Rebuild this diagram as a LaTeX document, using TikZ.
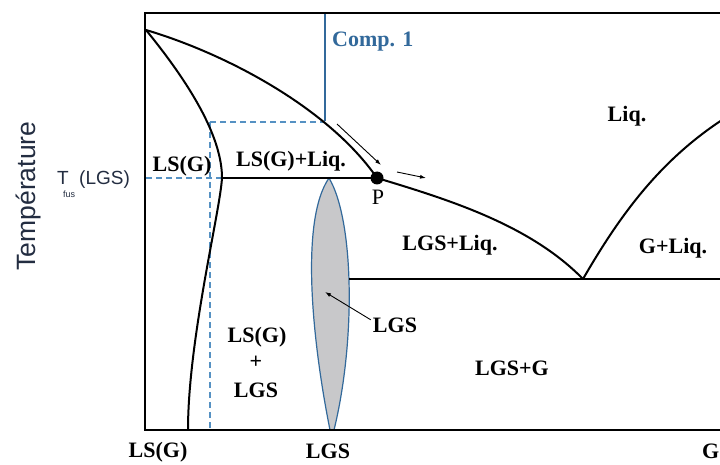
\documentclass[tikz,border=0pt]{standalone}
\usepackage{fontspec}
\setmainfont{Liberation Serif}
\setsansfont{Liberation Sans}
\usetikzlibrary{arrows.meta}
\definecolor{cblue}{RGB}{50,105,155}
\definecolor{dblue}{RGB}{85,145,195}
\definecolor{lensgray}{RGB}{200,200,202}
\definecolor{slate}{RGB}{35,45,65}
\tikzset{
  lbl/.style={font=\bfseries\fontsize{22}{26}\selectfont, inner sep=0pt, anchor=base},
  reglbl/.style={font=\fontsize{22}{26}\selectfont, inner sep=0pt, anchor=base},
  axislbl/.style={font=\sffamily\fontsize{26.5}{30}\selectfont, inner sep=0pt, text=slate},
  tlbl/.style={font=\sffamily\fontsize{19}{22}\selectfont, inner sep=0pt, anchor=base west, text=slate},
  tsublbl/.style={font=\sffamily\fontsize{9}{10}\selectfont, inner sep=0pt, anchor=base west, text=slate},
  phase/.style={line width=2pt, black},
  guide/.style={dblue, dash pattern=on 6pt off 4pt, line width=1.6pt},
  smallarrow/.style={-{Latex[length=6pt,width=4pt]}, line width=0.9pt, black},
}
\begin{document}
\begin{tikzpicture}[x=1pt,y=-1pt]
\useasboundingbox (0,0) rectangle (720,465);
\fill[white] (0,0) rectangle (720,465);

% LGS lens
\filldraw[fill=lensgray, draw=cblue, line width=1.2pt]
  (329,178) .. controls (300,220) and (312,340) .. (330,430)
  -- (334,430) .. controls (356,340) and (354,220) .. (329,178) -- cycle;

% guide lines
\draw[cblue, line width=1.5pt] (325,13) -- (325,121);
\draw[guide] (210,122) -- (325,122);
\draw[guide] (210,122) -- (210,430);
\draw[guide] (146,178) -- (222,178);

% frame
\draw[phase] (725,13) -- (145,13) -- (145,430) -- (725,430);

% liquidus
\draw[phase] (146,30) .. controls (230,55) and (330,110) .. (377,178)
  .. controls (450,200) and (530,225) .. (583,279);
\draw[phase] (583,279) .. controls (620,215) and (660,160) .. (725,118);
% solidus LS(G)
\draw[phase] (146,30) .. controls (195,90) and (222,140) .. (222,178)
  .. controls (220,212) and (188,340) .. (188,430);
% invariant lines
\draw[phase] (222,178) -- (377,178);
\draw[phase] (349,279) -- (725,279);

% peritectic point
\node[circle, fill=black, inner sep=0pt, minimum size=13pt] (P) at (377,178) {};
\node[reglbl] (Plbl) at (378,205) {P};

% small arrows
\coordinate (a1s) at (337,124);
\coordinate (a1e) at (381,165);
\coordinate (a2s) at (397,172);
\coordinate (a2e) at (426,178);
\draw[smallarrow] (a1s) -- (a1e);
\draw[smallarrow] (a2s) -- (a2e);

% labels
\node[lbl, anchor=base west, text=cblue] (comp) at (332,47) {Comp. 1};
\node[lbl] (lsg) at (182,172) {LS(G)};
\node[lbl] (lsgliq) at (291,167) {LS(G)+Liq.};
\node[lbl] (liq) at (627,122) {Liq.};
\node[lbl] (lgsliq) at (450,251) {LGS+Liq.};
\node[lbl] (gliq) at (673,253) {G+Liq.};
\node[lbl] (lgs) at (395,332) {LGS};
\node[lbl] (lgsg) at (512,375) {LGS+G};
\node[lbl] (st1) at (257,342) {LS(G)};
\node[lbl] (st2) at (256,368) {+};
\node[lbl] (st3) at (256,397) {LGS};

% LGS pointer
\coordinate (lenspt) at (325,292);
\draw[smallarrow] ([shift={(-2,-5)}]lgs.west) -- (lenspt);

% axis labels
\node[lbl] (xl1) at (158,457) {LS(G)};
\node[lbl] (xl2) at (328,458) {LGS};
\node[lbl, anchor=base west] (xl3) at (702,458) {G};
\node[axislbl, rotate=90, anchor=base] (temp) at (35,196) {Température};
\node[tlbl] (tT) at (57,185) {T};
\node[tsublbl] (tsub) at (63,197) {fus};
\node[tlbl] (tLGS) at (79,185) {(LGS)};
\end{tikzpicture}
\end{document}
